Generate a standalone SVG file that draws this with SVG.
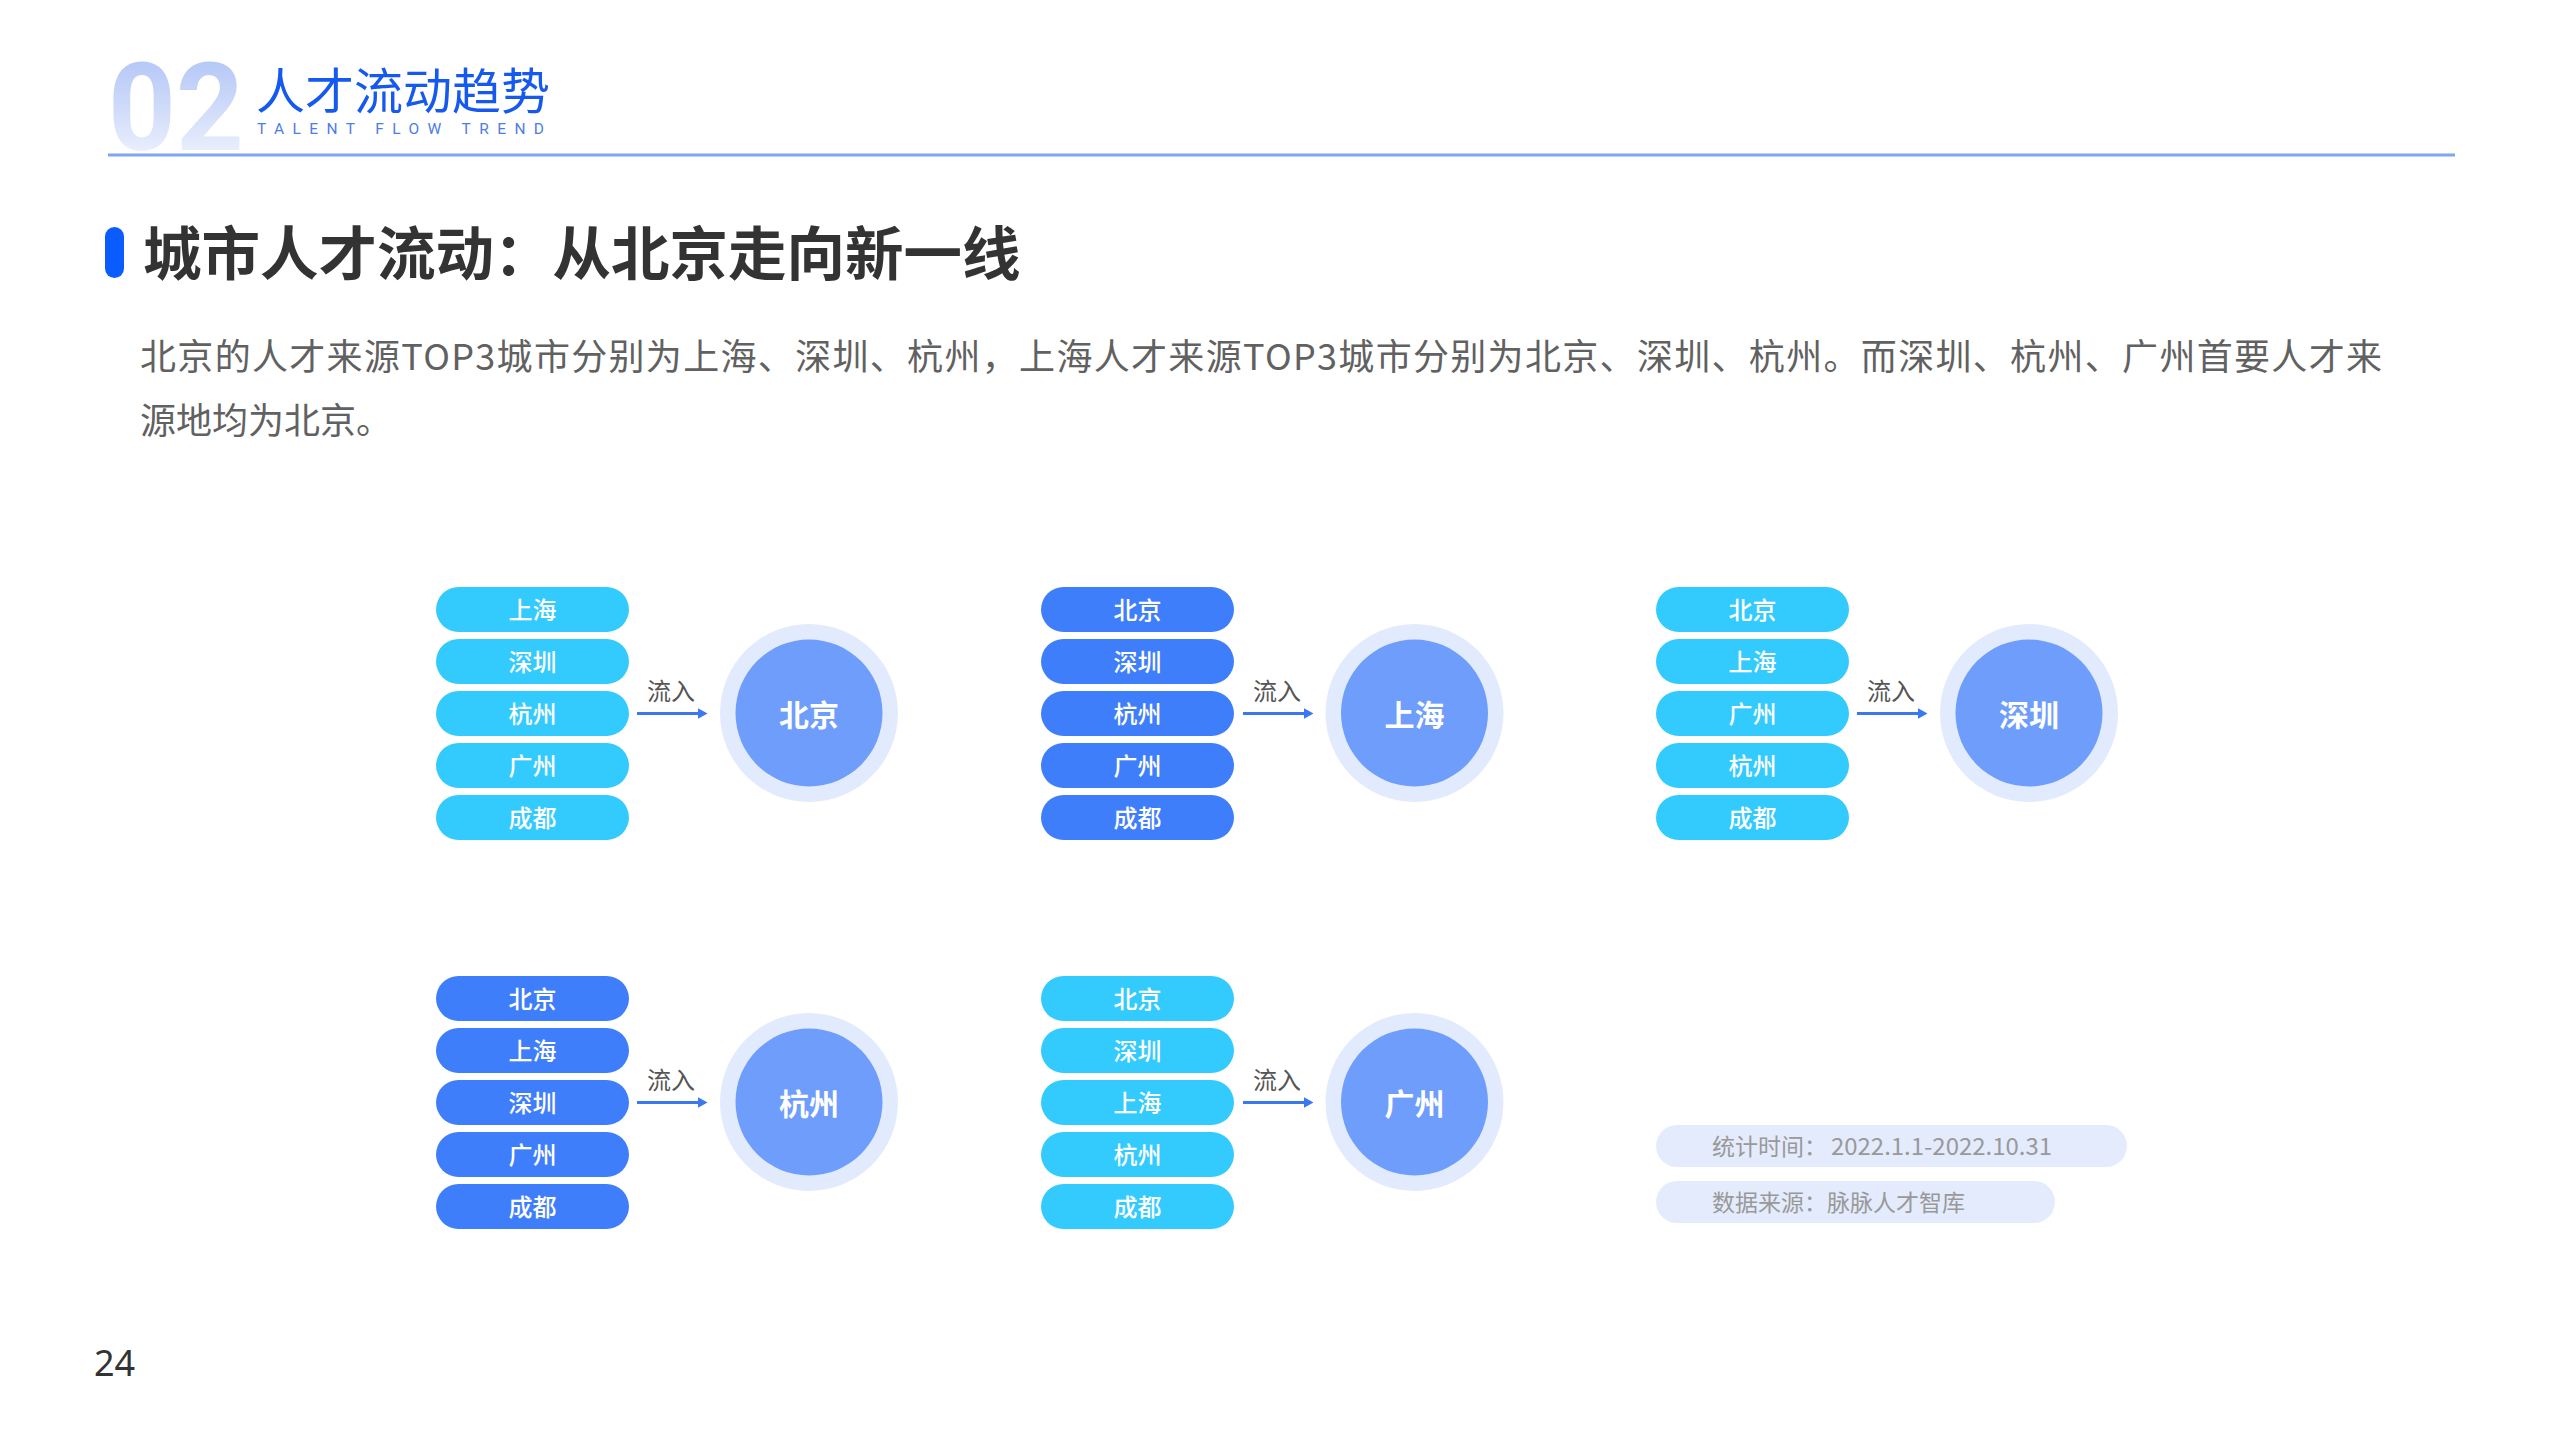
<svg xmlns="http://www.w3.org/2000/svg" width="2560" height="1440" viewBox="0 0 2560 1440">
<defs>
<linearGradient id="numGrad" x1="0" y1="0" x2="0" y2="1">
<stop offset="0" stop-color="#a9bef6"/>
<stop offset="0.5" stop-color="#cfdbf9"/>
<stop offset="1" stop-color="#fafbff"/>
</linearGradient>
<marker id="arrow" markerUnits="userSpaceOnUse" markerWidth="12" markerHeight="12" refX="0.5" refY="6" orient="auto">
<path d="M0,0.5 L10,6 L0,11.5 z" fill="#3a78ef"/>
</marker>
</defs>
<style>
.cjk{font-family:"Noto Sans CJK SC","Noto Sans",sans-serif}
.pill{stroke:none}
.cyan{fill:#33cbfe}
.blue{fill:#3f7efb}
.ptxt{font-family:"Noto Sans CJK SC",sans-serif;font-size:24px;font-weight:500;fill:#ffffff;text-anchor:middle}
.ring{fill:#e2ebfd}
.core{fill:#6e9dfc}
.htxt{font-family:"Noto Sans CJK SC",sans-serif;font-size:30px;font-weight:700;fill:#ffffff;text-anchor:middle}
.conn{stroke:#3a78ef;stroke-width:3;fill:none}
.flow{font-family:"Noto Sans CJK SC",sans-serif;font-size:24px;fill:#555555;text-anchor:middle}
.note{fill:#e4ebfc}
.ntxt{font-family:"Noto Sans CJK SC",sans-serif;font-size:23px;fill:#999999}
</style>
<rect width="2560" height="1440" fill="#ffffff"/>

<!-- header -->
<g id="header">
<text x="108" y="150" font-family="Roboto,'Liberation Sans',sans-serif" font-weight="700" font-size="122" fill="url(#numGrad)" transform="translate(108,0) scale(0.97,1) translate(-108,0)">02</text>
<text x="256" y="109" class="cjk" font-size="49" fill="#1659ef">人才流动趋势</text>
<text x="257" y="134" font-family="Roboto,'Noto Sans',sans-serif" font-size="15.5" fill="#4c7de9" textLength="287" lengthAdjust="spacing">TALENT FLOW TREND</text>
<line x1="108" y1="155" x2="2455" y2="155" stroke="#7fa5f4" stroke-width="3"/>
</g>

<!-- title -->
<g id="title">
<rect x="105" y="227" width="19" height="51" rx="9.5" fill="#0a5cff"/>
<text x="143" y="275" class="cjk" font-size="58.5" font-weight="700" fill="#333333">城市人才流动：从北京走向新一线</text>
</g>

<!-- description -->
<g id="description" class="cjk" font-size="36" fill="#616161">
<text x="140" y="370" textLength="2242" lengthAdjust="spacing">北京的人才来源TOP3城市分别为上海、深圳、杭州，上海人才来源TOP3城市分别为北京、深圳、杭州。而深圳、杭州、广州首要人才来</text>
<text x="140" y="434">源地均为北京。</text>
</g>

<!-- cluster 1: Beijing -->
<g id="bj-src-sh" transform="translate(436,587)"><rect class="pill cyan" width="193" height="45" rx="22.5"/><text class="ptxt" x="96.5" y="31.5">上海</text></g>
<g id="bj-src-sz" transform="translate(436,639)"><rect class="pill cyan" width="193" height="45" rx="22.5"/><text class="ptxt" x="96.5" y="31.5">深圳</text></g>
<g id="bj-src-hz" transform="translate(436,691)"><rect class="pill cyan" width="193" height="45" rx="22.5"/><text class="ptxt" x="96.5" y="31.5">杭州</text></g>
<g id="bj-src-gz" transform="translate(436,743)"><rect class="pill cyan" width="193" height="45" rx="22.5"/><text class="ptxt" x="96.5" y="31.5">广州</text></g>
<g id="bj-src-cd" transform="translate(436,795)"><rect class="pill cyan" width="193" height="45" rx="22.5"/><text class="ptxt" x="96.5" y="31.5">成都</text></g>
<g id="hub-bj" transform="translate(809,713)"><circle class="ring" r="89"/><circle class="core" r="73.5"/><text class="htxt" y="13">北京</text></g>

<!-- cluster 2: Shanghai -->
<g id="sh-src-bj" transform="translate(1041,587)"><rect class="pill blue" width="193" height="45" rx="22.5"/><text class="ptxt" x="96.5" y="31.5">北京</text></g>
<g id="sh-src-sz" transform="translate(1041,639)"><rect class="pill blue" width="193" height="45" rx="22.5"/><text class="ptxt" x="96.5" y="31.5">深圳</text></g>
<g id="sh-src-hz" transform="translate(1041,691)"><rect class="pill blue" width="193" height="45" rx="22.5"/><text class="ptxt" x="96.5" y="31.5">杭州</text></g>
<g id="sh-src-gz" transform="translate(1041,743)"><rect class="pill blue" width="193" height="45" rx="22.5"/><text class="ptxt" x="96.5" y="31.5">广州</text></g>
<g id="sh-src-cd" transform="translate(1041,795)"><rect class="pill blue" width="193" height="45" rx="22.5"/><text class="ptxt" x="96.5" y="31.5">成都</text></g>
<g id="hub-sh" transform="translate(1414.5,713)"><circle class="ring" r="89"/><circle class="core" r="73.5"/><text class="htxt" y="13">上海</text></g>

<!-- cluster 3: Shenzhen -->
<g id="sz-src-bj" transform="translate(1656,587)"><rect class="pill cyan" width="193" height="45" rx="22.5"/><text class="ptxt" x="96.5" y="31.5">北京</text></g>
<g id="sz-src-sh" transform="translate(1656,639)"><rect class="pill cyan" width="193" height="45" rx="22.5"/><text class="ptxt" x="96.5" y="31.5">上海</text></g>
<g id="sz-src-gz" transform="translate(1656,691)"><rect class="pill cyan" width="193" height="45" rx="22.5"/><text class="ptxt" x="96.5" y="31.5">广州</text></g>
<g id="sz-src-hz" transform="translate(1656,743)"><rect class="pill cyan" width="193" height="45" rx="22.5"/><text class="ptxt" x="96.5" y="31.5">杭州</text></g>
<g id="sz-src-cd" transform="translate(1656,795)"><rect class="pill cyan" width="193" height="45" rx="22.5"/><text class="ptxt" x="96.5" y="31.5">成都</text></g>
<g id="hub-sz" transform="translate(2029,713)"><circle class="ring" r="89"/><circle class="core" r="73.5"/><text class="htxt" y="13">深圳</text></g>

<!-- cluster 4: Hangzhou -->
<g id="hz-src-bj" transform="translate(436,976)"><rect class="pill blue" width="193" height="45" rx="22.5"/><text class="ptxt" x="96.5" y="31.5">北京</text></g>
<g id="hz-src-sh" transform="translate(436,1028)"><rect class="pill blue" width="193" height="45" rx="22.5"/><text class="ptxt" x="96.5" y="31.5">上海</text></g>
<g id="hz-src-sz" transform="translate(436,1080)"><rect class="pill blue" width="193" height="45" rx="22.5"/><text class="ptxt" x="96.5" y="31.5">深圳</text></g>
<g id="hz-src-gz" transform="translate(436,1132)"><rect class="pill blue" width="193" height="45" rx="22.5"/><text class="ptxt" x="96.5" y="31.5">广州</text></g>
<g id="hz-src-cd" transform="translate(436,1184)"><rect class="pill blue" width="193" height="45" rx="22.5"/><text class="ptxt" x="96.5" y="31.5">成都</text></g>
<g id="hub-hz" transform="translate(809,1102)"><circle class="ring" r="89"/><circle class="core" r="73.5"/><text class="htxt" y="13">杭州</text></g>

<!-- cluster 5: Guangzhou -->
<g id="gz-src-bj" transform="translate(1041,976)"><rect class="pill cyan" width="193" height="45" rx="22.5"/><text class="ptxt" x="96.5" y="31.5">北京</text></g>
<g id="gz-src-sz" transform="translate(1041,1028)"><rect class="pill cyan" width="193" height="45" rx="22.5"/><text class="ptxt" x="96.5" y="31.5">深圳</text></g>
<g id="gz-src-sh" transform="translate(1041,1080)"><rect class="pill cyan" width="193" height="45" rx="22.5"/><text class="ptxt" x="96.5" y="31.5">上海</text></g>
<g id="gz-src-hz" transform="translate(1041,1132)"><rect class="pill cyan" width="193" height="45" rx="22.5"/><text class="ptxt" x="96.5" y="31.5">杭州</text></g>
<g id="gz-src-cd" transform="translate(1041,1184)"><rect class="pill cyan" width="193" height="45" rx="22.5"/><text class="ptxt" x="96.5" y="31.5">成都</text></g>
<g id="hub-gz" transform="translate(1414.5,1102)"><circle class="ring" r="89"/><circle class="core" r="73.5"/><text class="htxt" y="13">广州</text></g>

<!-- connectors -->
<g id="connectors">
<line class="conn" x1="637" y1="713.5" x2="698" y2="713.5" marker-end="url(#arrow)"/>
<text class="flow" x="671" y="700">流入</text>
<line class="conn" x1="1243" y1="713.5" x2="1304" y2="713.5" marker-end="url(#arrow)"/>
<text class="flow" x="1277" y="700">流入</text>
<line class="conn" x1="1857" y1="713.5" x2="1918" y2="713.5" marker-end="url(#arrow)"/>
<text class="flow" x="1891" y="700">流入</text>
<line class="conn" x1="637" y1="1102.5" x2="698" y2="1102.5" marker-end="url(#arrow)"/>
<text class="flow" x="671" y="1089">流入</text>
<line class="conn" x1="1243" y1="1102.5" x2="1304" y2="1102.5" marker-end="url(#arrow)"/>
<text class="flow" x="1277" y="1089">流入</text>
</g>

<!-- notes -->
<g id="note-time"><rect class="note" x="1656" y="1125" width="471" height="42" rx="21"/><text class="ntxt" x="1712" y="1155">统计时间：</text><text class="ntxt" x="1831" y="1155" textLength="221" lengthAdjust="spacingAndGlyphs">2022.1.1-2022.10.31</text></g>
<g id="note-source"><rect class="note" x="1656" y="1181" width="399" height="42" rx="21"/><text class="ntxt" x="1712" y="1211">数据来源：脉脉人才智库</text></g>

<!-- page number -->
<text id="page-number" x="94" y="1376" font-family="'Noto Sans',sans-serif" font-size="36" fill="#333333">24</text>
</svg>
